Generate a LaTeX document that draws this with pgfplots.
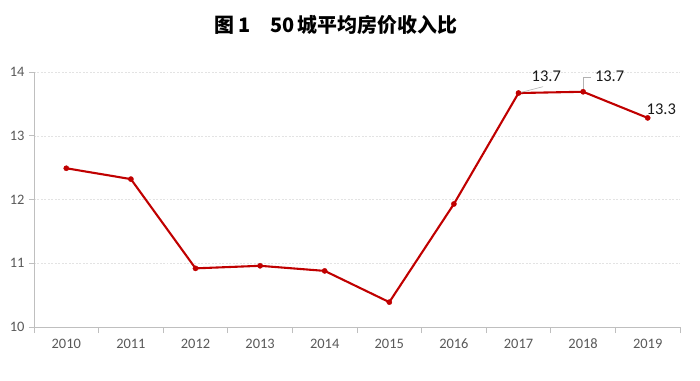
\documentclass[border=0pt]{standalone}
\usepackage{pgfplots}
\pgfplotsset{compat=1.18}
\usepackage{fontspec}
\setmainfont{Carlito}
\newfontfamily\cjk{Noto Sans CJK SC}
\definecolor{linered}{HTML}{C00000}
\definecolor{axgray}{HTML}{BFBFBF}
\definecolor{txtgray}{HTML}{595959}
\begin{document}
\begin{tikzpicture}
\useasboundingbox (-34bp,-54bp) rectangle (666bp,327bp);
\begin{axis}[
  at={(0,0)}, anchor=south west,
  scale only axis, width=646bp, height=255bp,
  xmin=-0.5, xmax=9.5, ymin=10, ymax=14,
  axis x line*=bottom, axis y line*=left,
  axis line style={axgray, line width=0.8pt, -},
  xtick={0,...,9},
  xticklabels={2010,2011,2012,2013,2014,2015,2016,2017,2018,2019},
  minor xtick={-0.5,0.5,...,9.5},
  major x tick style={draw=none},
  minor x tick style={axgray, line width=0.8pt},
  ytick={10,11,12,13,14},
  y tick style={axgray, line width=0.8pt},
  tick align=outside,
  major tick length=5bp, minor tick length=6bp,
  ymajorgrids, major grid style={gray!22, dash pattern=on 2pt off 1.5pt, line width=0.5pt},
  tick label style={font=\fontsize{14.5}{16}\selectfont, text=txtgray},
  /pgf/number format/assume math mode=true,
  xticklabel style={yshift=-3bp, text height=10bp, text depth=0pt},
  yticklabel style={xshift=-1bp},
  clip=false,
]
\addplot[linered, line width=2.1pt, mark=*, mark size=2.6bp, mark options={fill=linered, draw=linered, line width=0.4pt}]
coordinates {(0,12.49) (1,12.32) (2,10.92) (3,10.96) (4,10.88) (5,10.39) (6,11.93) (7,13.67) (8,13.69) (9,13.28)};
\draw[gray!60, line width=0.6pt] (axis cs:7,13.67) -- (axis cs:7.38,13.77);
\draw[gray!60, line width=0.6pt] (axis cs:8,13.69) -- (axis cs:8,13.92) -- (axis cs:8.12,13.92);
\node[font=\fontsize{16.5}{18}\selectfont, text=black!90] at (axis cs:7.43,13.94) {13.7};
\node[font=\fontsize{16.5}{18}\selectfont, text=black!90, anchor=west] at (axis cs:8.13,13.94) {13.7};
\node[font=\fontsize{16.5}{18}\selectfont, text=black!90] at (axis cs:9.21,13.42) {13.3};
\end{axis}
\node[font=\cjk\bfseries\fontsize{20}{22}\selectfont] at (302bp,302bp) {图\,1\quad 50\,城平均房价收入比};
\end{tikzpicture}
\end{document}
